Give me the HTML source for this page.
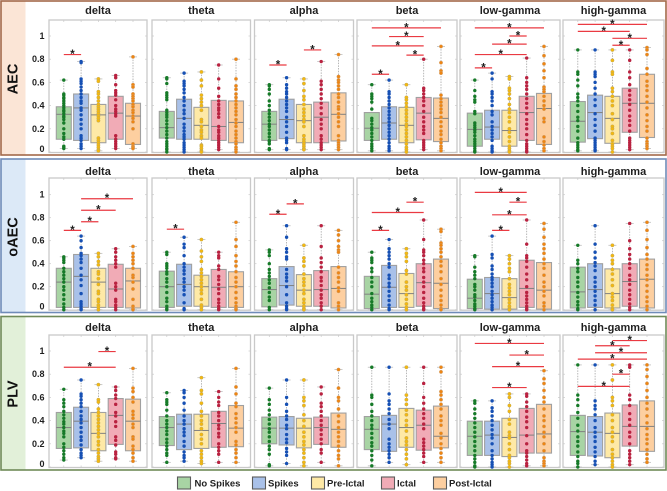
<!DOCTYPE html>
<html>
<head>
<meta charset="utf-8">
<title>Connectivity box plots</title>
<style>
html,body{margin:0;padding:0;background:#fff;width:667px;height:491px;overflow:hidden}
svg{display:block;filter:blur(0.35px)}
text{font-family:"Liberation Sans",sans-serif;font-weight:bold;fill:#1f1f1f}
</style>
</head>
<body>
<svg id="chart" xmlns="http://www.w3.org/2000/svg" width="667" height="491" viewBox="0 0 667 491"></svg>
<script>
const metrics = ["AEC", "oAEC", "PLV"];
const bands = ["delta", "theta", "alpha", "beta", "low-gamma", "high-gamma"];
const states = ["No Spikes", "Spikes", "Pre-Ictal", "Ictal", "Post-Ictal"];
const tickValues = [0, 0.2, 0.4, 0.6, 0.8, 1];
const tickLabels = ["0", "0.2", "0.4", "0.6", "0.8", "1"];

const q1Values = [
 [[.11,.10,.08,.11,.065],[.12,.11,.11,.10,.08],[.10,.115,.08,.08,.095],[.10,.11,.08,.105,.09],[.05,.11,.05,.10,.065],[.085,.115,.075,.17,.125]],
 [[.02,.02,.02,.02,.015],[.02,.03,.03,.02,.02],[.025,.04,.03,.03,.015],[.01,.02,.02,.03,.01],[.01,.005,.005,.02,.005],[.015,.02,.015,.03,.015]],
 [[.16,.165,.14,.195,.14],[.185,.15,.16,.17,.175],[.20,.19,.165,.195,.17],[.15,.135,.17,.145,.165],[.10,.10,.09,.12,.12],[.10,.095,.08,.18,.135]]
];
const medianValues = [
 [[.325,.38,.32,.335,.31],[.21,.29,.23,.22,.255],[.24,.28,.27,.30,.325],[.205,.25,.23,.335,.29],[.195,.215,.185,.34,.375],[.265,.34,.29,.42,.42]],
 [[.24,.29,.24,.18,.25],[.20,.22,.20,.195,.20],[.175,.21,.17,.175,.185],[.135,.195,.14,.235,.23],[.10,.14,.105,.185,.17],[.155,.175,.14,.245,.265]],
 [[.34,.395,.29,.445,.395],[.34,.37,.315,.375,.335],[.335,.335,.335,.34,.325],[.325,.37,.34,.36,.265],[.265,.275,.255,.275,.285],[.305,.30,.29,.35,.35]]
];
const q3Values = [
 [[.39,.50,.41,.48,.42],[.35,.455,.385,.445,.44],[.35,.455,.41,.43,.51],[.34,.39,.385,.47,.465],[.335,.36,.36,.48,.505],[.435,.49,.48,.55,.67]],
 [[.36,.48,.36,.395,.36],[.335,.395,.30,.35,.33],[.27,.375,.305,.34,.375],[.29,.385,.315,.40,.44],[.265,.28,.27,.43,.41],[.37,.40,.355,.40,.44]],
 [[.47,.515,.47,.59,.585],[.435,.455,.455,.48,.53],[.43,.435,.42,.43,.465],[.435,.445,.505,.49,.525],[.395,.395,.42,.505,.54],[.445,.435,.465,.535,.57]]
];

const pointsAEC = [
 [[62,50,49,47,46,44,42,40,38,36,35,33,31,30,28,25,20,16,13,11,5,4,3],[78,77,63,61,59,56,53,50,47,44,42,38,36,32,28,24,20,14,12,10,7,5,3],[63,61,52,50,47,44,41,39,37,35,33,31,29,27,12,10,8,6,4,2,1],[66,64,58,53,51,49,45,40,37,35,33,31,14,11,9,7,5,3],[82,58,56,50,48,46,44,41,39,36,34,31,29,26,20,7,5,4,3]],
 [[64,63,59,51,49,47,45,36,34,32,30,27,24,21,18,15,12,9,7,5,3,2,0],[68,61,59,57,54,51,47,44,40,36,33,29,24,21,18,15,13,11,8,6,4,2,0],[69,62,57,49,46,43,40,36,28,26,22,19,17,14,12,6,5,3,1,0],[75,63,55,48,44,41,38,36,33,30,22,19,17,14,12,10,8,6,4,2],[80,63,57,54,50,47,44,41,38,35,32,28,25,22,18,15,12,9,7,4,2,0]],
 [[58,57,54,50,44,40,36,33,30,27,24,22,19,16,13,10,9,7,3,2],[64,58,55,52,50,47,44,41,38,35,30,26,22,17,12,10,8,3,2],[63,59,53,48,45,41,37,34,31,28,26,22,14,11,9,7,5,3,2],[78,61,58,54,50,46,42,38,33,28,24,20,14,11,8,6,4,2],[84,65,62,60,57,54,50,47,43,39,37,33,30,26,22,14,10,8,6,4,2]],
 [[58,50,48,46,43,37,29,27,24,21,19,16,13,10,7,5,3,1],[62,52,50,47,44,41,38,35,32,29,26,23,20,17,14,11,8,5,3,1],[58,47,45,42,39,36,33,30,27,24,22,19,16,13,10,7,4,2,0],[80,55,53,50,47,44,40,35,30,26,22,19,16,10,8,6,4,2],[91,77,70,68,49,46,43,40,37,34,30,26,22,18,15,11,8,5,3,1]],
 [[62,53,48,45,43,35,33,25,23,21,19,17,14,11,9,7,5,3,1,0],[68,63,52,50,47,44,40,35,32,26,22,19,16,13,10,5,3,1,0],[65,63,55,53,50,46,41,37,34,30,26,20,17,13,9,5,3,1,0],[81,64,60,57,54,50,46,42,38,33,28,24,20,15,10,7,5,3,1,0],[91,83,76,70,64,56,54,52,48,44,40,37,29,26,13,9,6,3,1]],
 [[88,69,67,62,57,50,47,44,40,35,30,27,22,18,12,8,6,4,2,1],[88,69,67,65,60,55,50,45,40,33,28,23,18,12,10,8,6,4,2,1],[88,79,69,67,55,52,48,44,40,33,28,22,20,16,10,7,5,3,0],[88,79,69,64,58,53,49,45,41,36,31,27,23,18,12,10,8,6,4,2],[90,88,84,72,67,61,57,53,48,43,38,32,27,22,18,12,9,7,5,3]]
];
const pointsOAEC = [
 [[46,45,43,41,36,33,30,27,24,20,17,13,9,5,2,0],[64,60,54,49,47,44,41,36,30,26,21,14,7,5,3,1,0],[49,46,42,39,33,31,27,22,16,14,9,7,4,2,0],[53,50,46,43,40,37,23,20,17,9,7,4,2,0],[55,49,46,43,40,36,30,28,24,18,9,3,1,0]],
 [[50,48,40,38,36,33,31,27,24,20,15,10,7,3,1,0],[63,57,54,47,40,37,34,31,27,24,20,17,13,6,1,0],[61,51,46,42,35,32,29,26,23,20,17,14,9,4,2,0],[50,47,45,38,35,29,26,22,18,14,9,6,3,1,0],[76,61,55,47,42,38,33,28,24,20,15,10,6,3,1,0]],
 [[52,50,47,40,35,32,29,26,23,19,15,11,8,2,0],[73,63,53,50,46,44,35,31,28,25,20,13,6,3,1,0],[56,45,42,38,31,27,24,21,17,14,9,6,3,1,0],[73,55,45,41,37,33,28,25,21,17,13,10,6,3,0],[69,65,60,55,52,50,37,32,28,24,19,16,6,3,0]],
 [[50,45,43,41,36,33,28,24,20,14,10,7,4,2,0],[61,53,50,47,44,40,37,30,27,23,20,16,12,8,4,1,0],[53,49,46,42,34,31,24,20,17,13,9,5,2,0],[78,61,52,50,47,43,40,36,33,28,24,20,15,10,6,3,1,0],[70,68,58,56,53,50,46,42,38,33,27,22,17,12,8,4,1,0]],
 [[47,46,37,33,30,27,22,20,17,13,11,8,5,3,1,0],[64,48,45,38,35,31,28,26,23,20,16,13,10,7,4,2,0],[47,44,40,36,33,27,22,19,16,13,9,6,3,1,0],[78,57,47,45,42,37,31,26,20,15,12,9,6,3,1,0],[75,70,63,57,53,49,44,40,36,30,24,20,16,12,6,3,0]],
 [[56,43,40,36,33,28,24,20,15,11,7,4,1,0],[73,57,50,45,41,38,34,28,24,20,16,12,8,4,0],[56,47,43,40,35,31,26,21,14,11,8,4,1,0],[75,60,53,48,44,40,36,30,26,22,17,13,9,5,2,0],[76,69,61,54,48,44,39,35,30,26,21,16,11,7,3,0]]
];
const pointsPLV = [
 [[67,58,55,52,48,45,42,39,37,34,31,29,26,20,17,14,11,8,6],[75,63,61,58,55,52,48,44,41,38,34,30,26,23,19,15,12,10,8],[71,58,56,50,47,44,41,38,35,32,29,26,22,19,15,12,9,7,5],[69,66,62,59,54,47,44,39,35,26,23,19,13,11,8,7],[85,68,65,60,56,48,45,42,37,34,26,24,18,15,12,8,5]],
 [[64,58,56,54,49,44,40,37,34,31,28,24,21,18,15,12,10,4],[66,64,60,55,49,44,40,37,33,30,27,22,18,13,10,8,5],[77,66,63,55,48,44,40,37,33,28,24,20,14,11,8,5,3],[65,60,56,53,47,44,40,36,33,29,26,20,17,14,11,4],[85,69,63,55,52,46,42,38,34,30,22,19,15,12,8,4]],
 [[68,58,54,49,45,41,37,33,30,26,22,18,15,11,2,1],[75,60,54,48,44,41,36,33,28,24,21,16,13,10,3],[75,60,57,53,45,40,35,30,26,22,19,15,12,8,4,1],[69,63,55,52,48,44,40,36,32,28,24,20,15,12,4],[84,68,60,57,50,44,39,34,30,26,22,18,14,10,7,1]],
 [[86,62,60,54,48,44,40,36,33,29,25,21,18,14,10,6,1],[86,63,57,54,50,46,41,37,33,24,20,17,14,11,8,4],[86,62,58,54,49,45,40,36,31,25,22,19,15,11,7,2],[86,72,60,55,50,46,42,37,33,24,21,18,15,12,9,4],[86,82,65,62,58,54,50,44,40,36,29,25,20,16,12,8,4]],
 [[57,55,50,46,42,38,34,30,26,22,18,14,10,7,4,1,0],[57,51,48,44,40,36,32,28,25,20,14,10,7,4,2,0],[63,60,53,48,41,37,30,27,25,20,15,10,8,5,3,0],[63,61,56,52,48,43,39,34,27,20,14,12,9,6,3,1],[83,76,72,66,60,56,50,44,40,35,30,26,20,14,8,5,3,1]],
 [[88,62,58,53,47,42,36,31,26,22,18,13,9,5,3,0],[88,57,53,50,45,40,34,30,26,22,17,13,9,5,2],[88,75,60,57,53,45,40,34,30,26,22,15,11,8,5,2,0],[88,86,62,58,53,46,41,36,30,26,20,14,11,8,5,2],[88,84,78,72,66,60,55,50,44,38,33,28,24,20,15,11,7,4]]
];
const pointsHundredths = [pointsAEC, pointsOAEC, pointsPLV];

/* significance brackets: from-state index, to-state index, height on the y axis */
const sigAEC = [[[0,1,.84]],[],[[0,1,.75],[2,3,.88]],[[0,4,1.07],[1,3,.995],[0,3,.915],[2,3,.835],[0,1,.67]],[[0,4,1.07],[2,3,1.0],[1,3,.93],[0,3,.84],[0,1,.725]],[[0,4,1.10],[0,3,1.04],[2,4,.98],[2,3,.92]]];
const sigOAEC = [[[1,4,.965],[1,3,.865],[1,2,.765],[0,1,.69]],[[0,1,.70]],[[0,1,.83],[1,2,.92]],[[2,3,.935],[0,3,.845],[0,1,.69]],[[0,3,1.02],[2,3,.935],[1,3,.825],[1,2,.69]],[]];
const sigPLV = [[[2,3,.995],[0,3,.86]],[],[],[],[[0,4,1.065],[2,4,.965],[1,4,.865],[1,3,.685]],[[2,4,1.09],[1,3,1.045],[1,4,.985],[0,4,.93],[2,3,.80],[0,3,.695]]];
const significance = [sigAEC, sigOAEC, sigPLV];

/* layout and styling */
const svg = document.getElementById('chart');
const NS = 'http://www.w3.org/2000/svg';
const rowFrames = [{top:1,bottom:155,zero:152,panelTop:20,labelY:79,titleY:14,stroke:'#a3694a',band:'#fbe5d6'},
                   {top:159,bottom:312.5,zero:309.7,panelTop:178,labelY:237,titleY:175,stroke:'#6f8bb8',band:'#dce9f7'},
                   {top:316.5,bottom:470,zero:467,panelTop:335,labelY:394,titleY:331,stroke:'#6f8a58',band:'#e2f0d9'}];
const rowScale = [116, 115, 116];
const panelLeft = [49, 152, 254.5, 357, 460, 563];
const panelRight = [147, 250.5, 353.5, 457, 560, 664];
const boxFill = ['#a8d4a4', '#a9c1e9', '#fee9a6', '#f1abb6', '#fdcfa0'];
const pointFill = ['#167a28', '#1650b4', '#f4b810', '#b92240', '#ee8512'];
const pointEdge = ['none', 'none', '#b5a566', 'none', '#c9a27a'];

function el(tag, attrs, parent) {
  const node = document.createElementNS(NS, tag);
  for (const k in attrs) node.setAttribute(k, attrs[k]);
  (parent || svg).appendChild(node);
  return node;
}
function yScale(row, v) { return rowFrames[row].zero - rowScale[row] * v; }
function xScale(col, i) { return panelLeft[col] + 14.8 + 17.3 * i; }

metrics.forEach((metric, r) => {
  const f = rowFrames[r];
  const group = el('g', {});
  
  

  const band = el('rect', {x:1.5, y:f.top, width:24, height:f.bottom-f.top, fill:f.band}, group);
  
  

  const frame = el('rect', {x:1, y:f.top, width:665, height:f.bottom-f.top, fill:'none', stroke:f.stroke, 'stroke-width':1.6}, group);
  
  

  const rowLabel = el('text', {x:0, y:0, 'font-size':14.5, 'text-anchor':'middle', 'dominant-baseline':'central', transform:'translate(13.5 ' + f.labelY + ') rotate(-90)'}, group);
  rowLabel.textContent = metric;
  rowLabel.style.fill = '#111';
  
  

  tickValues.forEach((t, k) => {
    const dy = t === 0 ? -3 : 0;
    const lab = el('text', {x:44.5, y:yScale(r, t) + dy + 3, 'font-size':9, 'text-anchor':'end'}, group);
    lab.textContent = tickLabels[k];
    
    
  });

  bands.forEach((bandName, c) => {
    const L = panelLeft[c], R = panelRight[c], B = f.zero + 0.5, T = f.panelTop;
    const panel = el('g', {}, group);
    
    

    const title = el('text', {x:(L+R)/2, y:f.titleY, 'font-size':11, 'text-anchor':'middle'}, panel);
    title.textContent = bandName;
    
    

    const bg = el('rect', {x:L, y:T, width:R-L, height:B-T, fill:'#fff', stroke:'#c9c9c9', 'stroke-width':1.3}, panel);
    
    

    tickValues.forEach(t => {
      const y = yScale(r, t);
      el('line', {x1:L, x2:L+2, y1:y, y2:y, stroke:'#c9c9c9', 'stroke-width':.7}, panel);
      el('line', {x1:R-2, x2:R, y1:y, y2:y, stroke:'#c9c9c9', 'stroke-width':.7}, panel);
    });

    states.forEach((state, s) => {
      const cx = xScale(c, s);
      el('line', {x1:cx, x2:cx, y1:T, y2:T+2, stroke:'#c9c9c9', 'stroke-width':.7}, panel);
      el('line', {x1:cx, x2:cx, y1:B-2, y2:B, stroke:'#c9c9c9', 'stroke-width':.7}, panel);

      const pts = pointsHundredths[r][c][s].map(p => p / 100);
      const hi = Math.max.apply(null, pts), lo = Math.min.apply(null, pts);

      const whisker = el('line', {x1:cx, x2:cx, y1:yScale(r, hi), y2:yScale(r, lo), stroke:'#a6a6a6', 'stroke-width':.8, 'stroke-dasharray':'1.5 1.2'}, panel);
      
      
      [hi, lo].forEach(v => {
        el('line', {x1:cx-4, x2:cx+4, y1:yScale(r, v), y2:yScale(r, v), stroke:'#bdbdbd', 'stroke-width':.8}, panel);
      });

      const y3 = yScale(r, q3Values[r][c][s]), y1 = yScale(r, q1Values[r][c][s]), ym = yScale(r, medianValues[r][c][s]);
      const box = el('rect', {x:cx-7.5, y:y3, width:15, height:y1-y3, fill:boxFill[s], stroke:'#a0a0a0', 'stroke-width':1.1}, panel);
      
      

      const med = el('line', {x1:cx-7.5, x2:cx+7.5, y1:ym, y2:ym, stroke:'#808080', 'stroke-width':1}, panel);
      
      

      pts.forEach(v => {
        const dot = el('circle', {cx:cx, cy:yScale(r, v), r:1.7, fill:pointFill[s], stroke:pointEdge[s], 'stroke-width':.4}, panel);
        
        
      });
    });

    significance[r][c].forEach(b => {
      const x1 = xScale(c, b[0]), x2 = xScale(c, b[1]), y = yScale(r, b[2]);
      const bar = el('line', {x1:x1, x2:x2, y1:y, y2:y, stroke:'#ea3a42', 'stroke-width':1.2}, panel);
      
      
      const star = el('text', {x:(x1+x2)/2, y:y+3.5, 'font-size':11.5, 'text-anchor':'middle'}, panel);
      star.textContent = '*';
      
      
    });
  });
});

/* legend */
const legendSwatchX = [177.5, 252.5, 311.5, 381.5, 433.5];
const legendTextX = [194.5, 268, 327, 397, 449];
const legend = el('g', {});


states.forEach((state, s) => {
  const sw = el('rect', {x:legendSwatchX[s], y:477, width:13, height:12, fill:boxFill[s], stroke:'#5c5c5c', 'stroke-width':1.1}, legend);
  
  
  const tx = el('text', {x:legendTextX[s], y:486.5, 'font-size':9.5}, legend);
  tx.textContent = state;
  
  
});
</script>
</body>
</html>
